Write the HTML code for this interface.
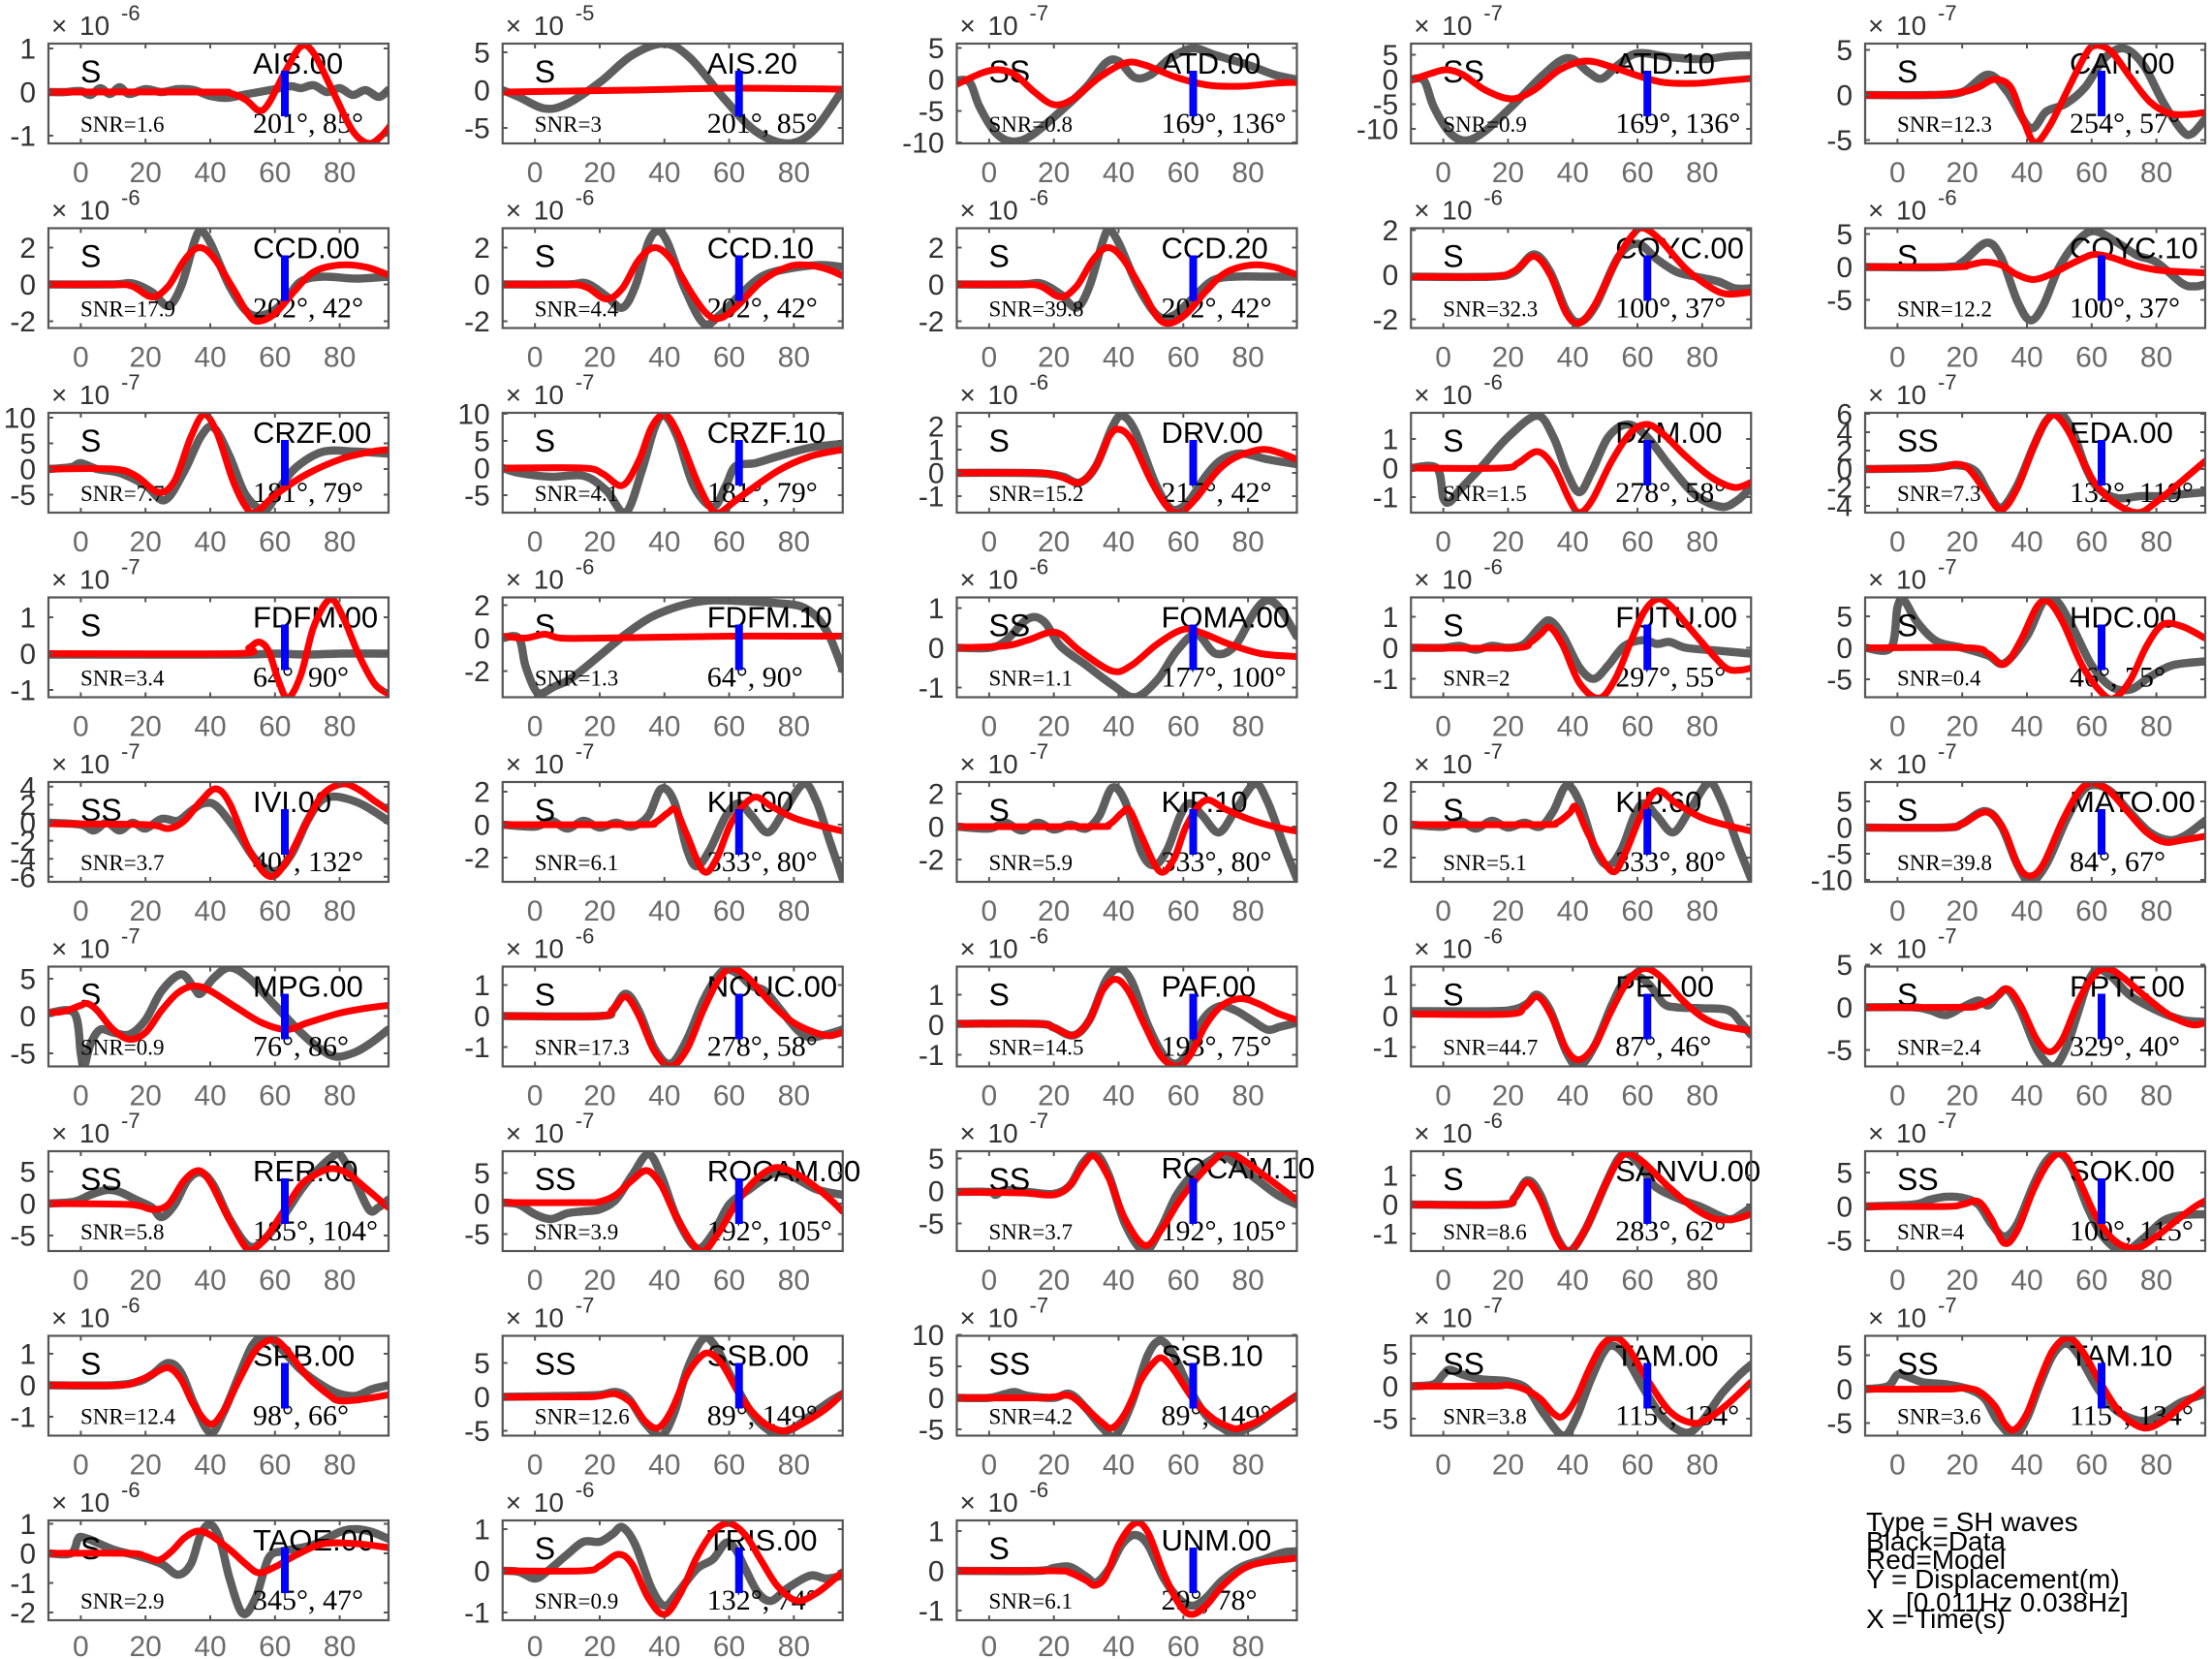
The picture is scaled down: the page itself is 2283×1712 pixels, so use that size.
<!DOCTYPE html>
<html><head><meta charset="utf-8"><style>
body{margin:0;background:#fff}
svg{display:block}
text{font-family:"Liberation Sans",sans-serif}
.x10{font-size:28px;fill:#333}
.ex{font-size:22px}
.xt{font-size:30px;fill:#6b6b6b;text-anchor:middle}
.yt{font-size:30px;fill:#333;text-anchor:end}
.ph{font-size:32px;fill:#000}
.nm{font-size:31px;fill:#000}
.snr{font-family:"Liberation Serif",serif;font-size:23px;fill:#000}
.ang{font-family:"Liberation Serif",serif;font-size:30px;fill:#000}
.lg{font-size:28px;fill:#000}
</style></head><body>
<svg id="S" width="2283" height="1712" viewBox="0 0 2283 1712" xmlns="http://www.w3.org/2000/svg">
<defs><clipPath id="cl" clipPathUnits="userSpaceOnUse"><rect x="0" y="0" width="351" height="103"/></clipPath></defs>
<rect width="2283" height="1712" fill="#fff"/>

<g class="p" transform="translate(50,45)"><text class="x10" x="3" y="-9">×<tspan x="32">10</tspan><tspan class="ex" x="75" y="-24">-6</tspan></text><text class="xt" y="143"><tspan x="33.4">0</tspan><tspan x="100.2">20</tspan><tspan x="167">40</tspan><tspan x="233.8">60</tspan><tspan x="300.6">80</tspan></text><text class="yt">1</text><text class="yt">0</text><text class="yt">-1</text><text class="ph" x="33" y="40">S</text><text class="nm" x="211" y="31">AIS.00</text><text class="snr" x="33" y="91">SNR=1.6</text><text class="ang" x="211" y="92">201°, 85°</text></g>
<g class="p" transform="translate(518.75,45)"><text class="x10" x="3" y="-9">×<tspan x="32">10</tspan><tspan class="ex" x="75" y="-24">-5</tspan></text><text class="xt" y="143"><tspan x="33.4">0</tspan><tspan x="100.2">20</tspan><tspan x="167">40</tspan><tspan x="233.8">60</tspan><tspan x="300.6">80</tspan></text><text class="yt">5</text><text class="yt">0</text><text class="yt">-5</text><text class="ph" x="33" y="40">S</text><text class="nm" x="211" y="31">AIS.20</text><text class="snr" x="33" y="91">SNR=3</text><text class="ang" x="211" y="92">201°, 85°</text></g>
<g class="p" transform="translate(987.5,45)"><text class="x10" x="3" y="-9">×<tspan x="32">10</tspan><tspan class="ex" x="75" y="-24">-7</tspan></text><text class="xt" y="143"><tspan x="33.4">0</tspan><tspan x="100.2">20</tspan><tspan x="167">40</tspan><tspan x="233.8">60</tspan><tspan x="300.6">80</tspan></text><text class="yt">5</text><text class="yt">0</text><text class="yt">-5</text><text class="yt">-10</text><text class="ph" x="33" y="40">SS</text><text class="nm" x="211" y="31">ATD.00</text><text class="snr" x="33" y="91">SNR=0.8</text><text class="ang" x="211" y="92">169°, 136°</text></g>
<g class="p" transform="translate(1456.25,45)"><text class="x10" x="3" y="-9">×<tspan x="32">10</tspan><tspan class="ex" x="75" y="-24">-7</tspan></text><text class="xt" y="143"><tspan x="33.4">0</tspan><tspan x="100.2">20</tspan><tspan x="167">40</tspan><tspan x="233.8">60</tspan><tspan x="300.6">80</tspan></text><text class="yt">5</text><text class="yt">0</text><text class="yt">-5</text><text class="yt">-10</text><text class="ph" x="33" y="40">SS</text><text class="nm" x="211" y="31">ATD.10</text><text class="snr" x="33" y="91">SNR=0.9</text><text class="ang" x="211" y="92">169°, 136°</text></g>
<g class="p" transform="translate(1925,45)"><text class="x10" x="3" y="-9">×<tspan x="32">10</tspan><tspan class="ex" x="75" y="-24">-7</tspan></text><text class="xt" y="143"><tspan x="33.4">0</tspan><tspan x="100.2">20</tspan><tspan x="167">40</tspan><tspan x="233.8">60</tspan><tspan x="300.6">80</tspan></text><text class="yt">5</text><text class="yt">0</text><text class="yt">-5</text><text class="ph" x="33" y="40">S</text><text class="nm" x="211" y="31">CAN.00</text><text class="snr" x="33" y="91">SNR=12.3</text><text class="ang" x="211" y="92">254°, 57°</text></g>

<g class="p" transform="translate(50,235.5)"><text class="x10" x="3" y="-9">×<tspan x="32">10</tspan><tspan class="ex" x="75" y="-24">-6</tspan></text><text class="xt" y="143"><tspan x="33.4">0</tspan><tspan x="100.2">20</tspan><tspan x="167">40</tspan><tspan x="233.8">60</tspan><tspan x="300.6">80</tspan></text><text class="yt">2</text><text class="yt">0</text><text class="yt">-2</text><text class="ph" x="33" y="40">S</text><text class="nm" x="211" y="31">CCD.00</text><text class="snr" x="33" y="91">SNR=17.9</text><text class="ang" x="211" y="92">202°, 42°</text></g>
<g class="p" transform="translate(518.75,235.5)"><text class="x10" x="3" y="-9">×<tspan x="32">10</tspan><tspan class="ex" x="75" y="-24">-6</tspan></text><text class="xt" y="143"><tspan x="33.4">0</tspan><tspan x="100.2">20</tspan><tspan x="167">40</tspan><tspan x="233.8">60</tspan><tspan x="300.6">80</tspan></text><text class="yt">2</text><text class="yt">0</text><text class="yt">-2</text><text class="ph" x="33" y="40">S</text><text class="nm" x="211" y="31">CCD.10</text><text class="snr" x="33" y="91">SNR=4.4</text><text class="ang" x="211" y="92">202°, 42°</text></g>
<g class="p" transform="translate(987.5,235.5)"><text class="x10" x="3" y="-9">×<tspan x="32">10</tspan><tspan class="ex" x="75" y="-24">-6</tspan></text><text class="xt" y="143"><tspan x="33.4">0</tspan><tspan x="100.2">20</tspan><tspan x="167">40</tspan><tspan x="233.8">60</tspan><tspan x="300.6">80</tspan></text><text class="yt">2</text><text class="yt">0</text><text class="yt">-2</text><text class="ph" x="33" y="40">S</text><text class="nm" x="211" y="31">CCD.20</text><text class="snr" x="33" y="91">SNR=39.8</text><text class="ang" x="211" y="92">202°, 42°</text></g>
<g class="p" transform="translate(1456.25,235.5)"><text class="x10" x="3" y="-9">×<tspan x="32">10</tspan><tspan class="ex" x="75" y="-24">-6</tspan></text><text class="xt" y="143"><tspan x="33.4">0</tspan><tspan x="100.2">20</tspan><tspan x="167">40</tspan><tspan x="233.8">60</tspan><tspan x="300.6">80</tspan></text><text class="yt">2</text><text class="yt">0</text><text class="yt">-2</text><text class="ph" x="33" y="40">S</text><text class="nm" x="211" y="31">COYC.00</text><text class="snr" x="33" y="91">SNR=32.3</text><text class="ang" x="211" y="92">100°, 37°</text></g>
<g class="p" transform="translate(1925,235.5)"><text class="x10" x="3" y="-9">×<tspan x="32">10</tspan><tspan class="ex" x="75" y="-24">-6</tspan></text><text class="xt" y="143"><tspan x="33.4">0</tspan><tspan x="100.2">20</tspan><tspan x="167">40</tspan><tspan x="233.8">60</tspan><tspan x="300.6">80</tspan></text><text class="yt">5</text><text class="yt">0</text><text class="yt">-5</text><text class="ph" x="33" y="40">S</text><text class="nm" x="211" y="31">COYC.10</text><text class="snr" x="33" y="91">SNR=12.2</text><text class="ang" x="211" y="92">100°, 37°</text></g>

<g class="p" transform="translate(50,426)"><text class="x10" x="3" y="-9">×<tspan x="32">10</tspan><tspan class="ex" x="75" y="-24">-7</tspan></text><text class="xt" y="143"><tspan x="33.4">0</tspan><tspan x="100.2">20</tspan><tspan x="167">40</tspan><tspan x="233.8">60</tspan><tspan x="300.6">80</tspan></text><text class="yt">10</text><text class="yt">5</text><text class="yt">0</text><text class="yt">-5</text><text class="ph" x="33" y="40">S</text><text class="nm" x="211" y="31">CRZF.00</text><text class="snr" x="33" y="91">SNR=7.7</text><text class="ang" x="211" y="92">181°, 79°</text></g>
<g class="p" transform="translate(518.75,426)"><text class="x10" x="3" y="-9">×<tspan x="32">10</tspan><tspan class="ex" x="75" y="-24">-7</tspan></text><text class="xt" y="143"><tspan x="33.4">0</tspan><tspan x="100.2">20</tspan><tspan x="167">40</tspan><tspan x="233.8">60</tspan><tspan x="300.6">80</tspan></text><text class="yt">10</text><text class="yt">5</text><text class="yt">0</text><text class="yt">-5</text><text class="ph" x="33" y="40">S</text><text class="nm" x="211" y="31">CRZF.10</text><text class="snr" x="33" y="91">SNR=4.1</text><text class="ang" x="211" y="92">181°, 79°</text></g>
<g class="p" transform="translate(987.5,426)"><text class="x10" x="3" y="-9">×<tspan x="32">10</tspan><tspan class="ex" x="75" y="-24">-6</tspan></text><text class="xt" y="143"><tspan x="33.4">0</tspan><tspan x="100.2">20</tspan><tspan x="167">40</tspan><tspan x="233.8">60</tspan><tspan x="300.6">80</tspan></text><text class="yt">2</text><text class="yt">1</text><text class="yt">0</text><text class="yt">-1</text><text class="ph" x="33" y="40">S</text><text class="nm" x="211" y="31">DRV.00</text><text class="snr" x="33" y="91">SNR=15.2</text><text class="ang" x="211" y="92">217°, 42°</text></g>
<g class="p" transform="translate(1456.25,426)"><text class="x10" x="3" y="-9">×<tspan x="32">10</tspan><tspan class="ex" x="75" y="-24">-6</tspan></text><text class="xt" y="143"><tspan x="33.4">0</tspan><tspan x="100.2">20</tspan><tspan x="167">40</tspan><tspan x="233.8">60</tspan><tspan x="300.6">80</tspan></text><text class="yt">1</text><text class="yt">0</text><text class="yt">-1</text><text class="ph" x="33" y="40">S</text><text class="nm" x="211" y="31">DZM.00</text><text class="snr" x="33" y="91">SNR=1.5</text><text class="ang" x="211" y="92">278°, 58°</text></g>
<g class="p" transform="translate(1925,426)"><text class="x10" x="3" y="-9">×<tspan x="32">10</tspan><tspan class="ex" x="75" y="-24">-7</tspan></text><text class="xt" y="143"><tspan x="33.4">0</tspan><tspan x="100.2">20</tspan><tspan x="167">40</tspan><tspan x="233.8">60</tspan><tspan x="300.6">80</tspan></text><text class="yt">6</text><text class="yt">4</text><text class="yt">2</text><text class="yt">0</text><text class="yt">-2</text><text class="yt">-4</text><text class="ph" x="33" y="40">SS</text><text class="nm" x="211" y="31">EDA.00</text><text class="snr" x="33" y="91">SNR=7.3</text><text class="ang" x="211" y="92">132°, 119°</text></g>

<g class="p" transform="translate(50,616.5)"><text class="x10" x="3" y="-9">×<tspan x="32">10</tspan><tspan class="ex" x="75" y="-24">-7</tspan></text><text class="xt" y="143"><tspan x="33.4">0</tspan><tspan x="100.2">20</tspan><tspan x="167">40</tspan><tspan x="233.8">60</tspan><tspan x="300.6">80</tspan></text><text class="yt">1</text><text class="yt">0</text><text class="yt">-1</text><text class="ph" x="33" y="40">S</text><text class="nm" x="211" y="31">FDFM.00</text><text class="snr" x="33" y="91">SNR=3.4</text><text class="ang" x="211" y="92">64°, 90°</text></g>
<g class="p" transform="translate(518.75,616.5)"><text class="x10" x="3" y="-9">×<tspan x="32">10</tspan><tspan class="ex" x="75" y="-24">-6</tspan></text><text class="xt" y="143"><tspan x="33.4">0</tspan><tspan x="100.2">20</tspan><tspan x="167">40</tspan><tspan x="233.8">60</tspan><tspan x="300.6">80</tspan></text><text class="yt">2</text><text class="yt">0</text><text class="yt">-2</text><text class="ph" x="33" y="40">S</text><text class="nm" x="211" y="31">FDFM.10</text><text class="snr" x="33" y="91">SNR=1.3</text><text class="ang" x="211" y="92">64°, 90°</text></g>
<g class="p" transform="translate(987.5,616.5)"><text class="x10" x="3" y="-9">×<tspan x="32">10</tspan><tspan class="ex" x="75" y="-24">-6</tspan></text><text class="xt" y="143"><tspan x="33.4">0</tspan><tspan x="100.2">20</tspan><tspan x="167">40</tspan><tspan x="233.8">60</tspan><tspan x="300.6">80</tspan></text><text class="yt">1</text><text class="yt">0</text><text class="yt">-1</text><text class="ph" x="33" y="40">SS</text><text class="nm" x="211" y="31">FOMA.00</text><text class="snr" x="33" y="91">SNR=1.1</text><text class="ang" x="211" y="92">177°, 100°</text></g>
<g class="p" transform="translate(1456.25,616.5)"><text class="x10" x="3" y="-9">×<tspan x="32">10</tspan><tspan class="ex" x="75" y="-24">-6</tspan></text><text class="xt" y="143"><tspan x="33.4">0</tspan><tspan x="100.2">20</tspan><tspan x="167">40</tspan><tspan x="233.8">60</tspan><tspan x="300.6">80</tspan></text><text class="yt">1</text><text class="yt">0</text><text class="yt">-1</text><text class="ph" x="33" y="40">S</text><text class="nm" x="211" y="31">FUTU.00</text><text class="snr" x="33" y="91">SNR=2</text><text class="ang" x="211" y="92">297°, 55°</text></g>
<g class="p" transform="translate(1925,616.5)"><text class="x10" x="3" y="-9">×<tspan x="32">10</tspan><tspan class="ex" x="75" y="-24">-7</tspan></text><text class="xt" y="143"><tspan x="33.4">0</tspan><tspan x="100.2">20</tspan><tspan x="167">40</tspan><tspan x="233.8">60</tspan><tspan x="300.6">80</tspan></text><text class="yt">5</text><text class="yt">0</text><text class="yt">-5</text><text class="ph" x="33" y="40">S</text><text class="nm" x="211" y="31">HDC.00</text><text class="snr" x="33" y="91">SNR=0.4</text><text class="ang" x="211" y="92">46°, 75°</text></g>

<g class="p" transform="translate(50,807)"><text class="x10" x="3" y="-9">×<tspan x="32">10</tspan><tspan class="ex" x="75" y="-24">-7</tspan></text><text class="xt" y="143"><tspan x="33.4">0</tspan><tspan x="100.2">20</tspan><tspan x="167">40</tspan><tspan x="233.8">60</tspan><tspan x="300.6">80</tspan></text><text class="yt">4</text><text class="yt">2</text><text class="yt">0</text><text class="yt">-2</text><text class="yt">-4</text><text class="yt">-6</text><text class="ph" x="33" y="40">SS</text><text class="nm" x="211" y="31">IVI.00</text><text class="snr" x="33" y="91">SNR=3.7</text><text class="ang" x="211" y="92">40°, 132°</text></g>
<g class="p" transform="translate(518.75,807)"><text class="x10" x="3" y="-9">×<tspan x="32">10</tspan><tspan class="ex" x="75" y="-24">-7</tspan></text><text class="xt" y="143"><tspan x="33.4">0</tspan><tspan x="100.2">20</tspan><tspan x="167">40</tspan><tspan x="233.8">60</tspan><tspan x="300.6">80</tspan></text><text class="yt">2</text><text class="yt">0</text><text class="yt">-2</text><text class="ph" x="33" y="40">S</text><text class="nm" x="211" y="31">KIP.00</text><text class="snr" x="33" y="91">SNR=6.1</text><text class="ang" x="211" y="92">333°, 80°</text></g>
<g class="p" transform="translate(987.5,807)"><text class="x10" x="3" y="-9">×<tspan x="32">10</tspan><tspan class="ex" x="75" y="-24">-7</tspan></text><text class="xt" y="143"><tspan x="33.4">0</tspan><tspan x="100.2">20</tspan><tspan x="167">40</tspan><tspan x="233.8">60</tspan><tspan x="300.6">80</tspan></text><text class="yt">2</text><text class="yt">0</text><text class="yt">-2</text><text class="ph" x="33" y="40">S</text><text class="nm" x="211" y="31">KIP.10</text><text class="snr" x="33" y="91">SNR=5.9</text><text class="ang" x="211" y="92">333°, 80°</text></g>
<g class="p" transform="translate(1456.25,807)"><text class="x10" x="3" y="-9">×<tspan x="32">10</tspan><tspan class="ex" x="75" y="-24">-7</tspan></text><text class="xt" y="143"><tspan x="33.4">0</tspan><tspan x="100.2">20</tspan><tspan x="167">40</tspan><tspan x="233.8">60</tspan><tspan x="300.6">80</tspan></text><text class="yt">2</text><text class="yt">0</text><text class="yt">-2</text><text class="ph" x="33" y="40">S</text><text class="nm" x="211" y="31">KIP.60</text><text class="snr" x="33" y="91">SNR=5.1</text><text class="ang" x="211" y="92">333°, 80°</text></g>
<g class="p" transform="translate(1925,807)"><text class="x10" x="3" y="-9">×<tspan x="32">10</tspan><tspan class="ex" x="75" y="-24">-7</tspan></text><text class="xt" y="143"><tspan x="33.4">0</tspan><tspan x="100.2">20</tspan><tspan x="167">40</tspan><tspan x="233.8">60</tspan><tspan x="300.6">80</tspan></text><text class="yt">5</text><text class="yt">0</text><text class="yt">-5</text><text class="yt">-10</text><text class="ph" x="33" y="40">S</text><text class="nm" x="211" y="31">MATO.00</text><text class="snr" x="33" y="91">SNR=39.8</text><text class="ang" x="211" y="92">84°, 67°</text></g>

<g class="p" transform="translate(50,997.5)"><text class="x10" x="3" y="-9">×<tspan x="32">10</tspan><tspan class="ex" x="75" y="-24">-7</tspan></text><text class="xt" y="143"><tspan x="33.4">0</tspan><tspan x="100.2">20</tspan><tspan x="167">40</tspan><tspan x="233.8">60</tspan><tspan x="300.6">80</tspan></text><text class="yt">5</text><text class="yt">0</text><text class="yt">-5</text><text class="ph" x="33" y="40">S</text><text class="nm" x="211" y="31">MPG.00</text><text class="snr" x="33" y="91">SNR=0.9</text><text class="ang" x="211" y="92">76°, 86°</text></g>
<g class="p" transform="translate(518.75,997.5)"><text class="x10" x="3" y="-9">×<tspan x="32">10</tspan><tspan class="ex" x="75" y="-24">-6</tspan></text><text class="xt" y="143"><tspan x="33.4">0</tspan><tspan x="100.2">20</tspan><tspan x="167">40</tspan><tspan x="233.8">60</tspan><tspan x="300.6">80</tspan></text><text class="yt">1</text><text class="yt">0</text><text class="yt">-1</text><text class="ph" x="33" y="40">S</text><text class="nm" x="211" y="31">NOUC.00</text><text class="snr" x="33" y="91">SNR=17.3</text><text class="ang" x="211" y="92">278°, 58°</text></g>
<g class="p" transform="translate(987.5,997.5)"><text class="x10" x="3" y="-9">×<tspan x="32">10</tspan><tspan class="ex" x="75" y="-24">-6</tspan></text><text class="xt" y="143"><tspan x="33.4">0</tspan><tspan x="100.2">20</tspan><tspan x="167">40</tspan><tspan x="233.8">60</tspan><tspan x="300.6">80</tspan></text><text class="yt">1</text><text class="yt">0</text><text class="yt">-1</text><text class="ph" x="33" y="40">S</text><text class="nm" x="211" y="31">PAF.00</text><text class="snr" x="33" y="91">SNR=14.5</text><text class="ang" x="211" y="92">193°, 75°</text></g>
<g class="p" transform="translate(1456.25,997.5)"><text class="x10" x="3" y="-9">×<tspan x="32">10</tspan><tspan class="ex" x="75" y="-24">-6</tspan></text><text class="xt" y="143"><tspan x="33.4">0</tspan><tspan x="100.2">20</tspan><tspan x="167">40</tspan><tspan x="233.8">60</tspan><tspan x="300.6">80</tspan></text><text class="yt">1</text><text class="yt">0</text><text class="yt">-1</text><text class="ph" x="33" y="40">S</text><text class="nm" x="211" y="31">PEL.00</text><text class="snr" x="33" y="91">SNR=44.7</text><text class="ang" x="211" y="92">87°, 46°</text></g>
<g class="p" transform="translate(1925,997.5)"><text class="x10" x="3" y="-9">×<tspan x="32">10</tspan><tspan class="ex" x="75" y="-24">-7</tspan></text><text class="xt" y="143"><tspan x="33.4">0</tspan><tspan x="100.2">20</tspan><tspan x="167">40</tspan><tspan x="233.8">60</tspan><tspan x="300.6">80</tspan></text><text class="yt">5</text><text class="yt">0</text><text class="yt">-5</text><text class="ph" x="33" y="40">S</text><text class="nm" x="211" y="31">PPTF.00</text><text class="snr" x="33" y="91">SNR=2.4</text><text class="ang" x="211" y="92">329°, 40°</text></g>

<g class="p" transform="translate(50,1188)"><text class="x10" x="3" y="-9">×<tspan x="32">10</tspan><tspan class="ex" x="75" y="-24">-7</tspan></text><text class="xt" y="143"><tspan x="33.4">0</tspan><tspan x="100.2">20</tspan><tspan x="167">40</tspan><tspan x="233.8">60</tspan><tspan x="300.6">80</tspan></text><text class="yt">5</text><text class="yt">0</text><text class="yt">-5</text><text class="ph" x="33" y="40">SS</text><text class="nm" x="211" y="31">RER.00</text><text class="snr" x="33" y="91">SNR=5.8</text><text class="ang" x="211" y="92">185°, 104°</text></g>
<g class="p" transform="translate(518.75,1188)"><text class="x10" x="3" y="-9">×<tspan x="32">10</tspan><tspan class="ex" x="75" y="-24">-7</tspan></text><text class="xt" y="143"><tspan x="33.4">0</tspan><tspan x="100.2">20</tspan><tspan x="167">40</tspan><tspan x="233.8">60</tspan><tspan x="300.6">80</tspan></text><text class="yt">5</text><text class="yt">0</text><text class="yt">-5</text><text class="ph" x="33" y="40">SS</text><text class="nm" x="211" y="31">ROCAM.00</text><text class="snr" x="33" y="91">SNR=3.9</text><text class="ang" x="211" y="92">192°, 105°</text></g>
<g class="p" transform="translate(987.5,1188)"><text class="x10" x="3" y="-9">×<tspan x="32">10</tspan><tspan class="ex" x="75" y="-24">-7</tspan></text><text class="xt" y="143"><tspan x="33.4">0</tspan><tspan x="100.2">20</tspan><tspan x="167">40</tspan><tspan x="233.8">60</tspan><tspan x="300.6">80</tspan></text><text class="yt">5</text><text class="yt">0</text><text class="yt">-5</text><text class="ph" x="33" y="40">SS</text><text class="nm" x="211" y="28">ROCAM.10</text><text class="snr" x="33" y="91">SNR=3.7</text><text class="ang" x="211" y="92">192°, 105°</text></g>
<g class="p" transform="translate(1456.25,1188)"><text class="x10" x="3" y="-9">×<tspan x="32">10</tspan><tspan class="ex" x="75" y="-24">-6</tspan></text><text class="xt" y="143"><tspan x="33.4">0</tspan><tspan x="100.2">20</tspan><tspan x="167">40</tspan><tspan x="233.8">60</tspan><tspan x="300.6">80</tspan></text><text class="yt">1</text><text class="yt">0</text><text class="yt">-1</text><text class="ph" x="33" y="40">S</text><text class="nm" x="211" y="31">SANVU.00</text><text class="snr" x="33" y="91">SNR=8.6</text><text class="ang" x="211" y="92">283°, 62°</text></g>
<g class="p" transform="translate(1925,1188)"><text class="x10" x="3" y="-9">×<tspan x="32">10</tspan><tspan class="ex" x="75" y="-24">-7</tspan></text><text class="xt" y="143"><tspan x="33.4">0</tspan><tspan x="100.2">20</tspan><tspan x="167">40</tspan><tspan x="233.8">60</tspan><tspan x="300.6">80</tspan></text><text class="yt">5</text><text class="yt">0</text><text class="yt">-5</text><text class="ph" x="33" y="40">SS</text><text class="nm" x="211" y="31">SOK.00</text><text class="snr" x="33" y="91">SNR=4</text><text class="ang" x="211" y="92">100°, 115°</text></g>

<g class="p" transform="translate(50,1378.5)"><text class="x10" x="3" y="-9">×<tspan x="32">10</tspan><tspan class="ex" x="75" y="-24">-6</tspan></text><text class="xt" y="143"><tspan x="33.4">0</tspan><tspan x="100.2">20</tspan><tspan x="167">40</tspan><tspan x="233.8">60</tspan><tspan x="300.6">80</tspan></text><text class="yt">1</text><text class="yt">0</text><text class="yt">-1</text><text class="ph" x="33" y="40">S</text><text class="nm" x="211" y="31">SPB.00</text><text class="snr" x="33" y="91">SNR=12.4</text><text class="ang" x="211" y="92">98°, 66°</text></g>
<g class="p" transform="translate(518.75,1378.5)"><text class="x10" x="3" y="-9">×<tspan x="32">10</tspan><tspan class="ex" x="75" y="-24">-7</tspan></text><text class="xt" y="143"><tspan x="33.4">0</tspan><tspan x="100.2">20</tspan><tspan x="167">40</tspan><tspan x="233.8">60</tspan><tspan x="300.6">80</tspan></text><text class="yt">5</text><text class="yt">0</text><text class="yt">-5</text><text class="ph" x="33" y="40">SS</text><text class="nm" x="211" y="31">SSB.00</text><text class="snr" x="33" y="91">SNR=12.6</text><text class="ang" x="211" y="92">89°, 149°</text></g>
<g class="p" transform="translate(987.5,1378.5)"><text class="x10" x="3" y="-9">×<tspan x="32">10</tspan><tspan class="ex" x="75" y="-24">-7</tspan></text><text class="xt" y="143"><tspan x="33.4">0</tspan><tspan x="100.2">20</tspan><tspan x="167">40</tspan><tspan x="233.8">60</tspan><tspan x="300.6">80</tspan></text><text class="yt">10</text><text class="yt">5</text><text class="yt">0</text><text class="yt">-5</text><text class="ph" x="33" y="40">SS</text><text class="nm" x="211" y="31">SSB.10</text><text class="snr" x="33" y="91">SNR=4.2</text><text class="ang" x="211" y="92">89°, 149°</text></g>
<g class="p" transform="translate(1456.25,1378.5)"><text class="x10" x="3" y="-9">×<tspan x="32">10</tspan><tspan class="ex" x="75" y="-24">-7</tspan></text><text class="xt" y="143"><tspan x="33.4">0</tspan><tspan x="100.2">20</tspan><tspan x="167">40</tspan><tspan x="233.8">60</tspan><tspan x="300.6">80</tspan></text><text class="yt">5</text><text class="yt">0</text><text class="yt">-5</text><text class="ph" x="33" y="40">SS</text><text class="nm" x="211" y="31">TAM.00</text><text class="snr" x="33" y="91">SNR=3.8</text><text class="ang" x="211" y="92">115°, 134°</text></g>
<g class="p" transform="translate(1925,1378.5)"><text class="x10" x="3" y="-9">×<tspan x="32">10</tspan><tspan class="ex" x="75" y="-24">-7</tspan></text><text class="xt" y="143"><tspan x="33.4">0</tspan><tspan x="100.2">20</tspan><tspan x="167">40</tspan><tspan x="233.8">60</tspan><tspan x="300.6">80</tspan></text><text class="yt">5</text><text class="yt">0</text><text class="yt">-5</text><text class="ph" x="33" y="40">SS</text><text class="nm" x="211" y="31">TAM.10</text><text class="snr" x="33" y="91">SNR=3.6</text><text class="ang" x="211" y="92">115°, 134°</text></g>

<g class="p" transform="translate(50,1569)"><text class="x10" x="3" y="-9">×<tspan x="32">10</tspan><tspan class="ex" x="75" y="-24">-6</tspan></text><text class="xt" y="140"><tspan x="33.4">0</tspan><tspan x="100.2">20</tspan><tspan x="167">40</tspan><tspan x="233.8">60</tspan><tspan x="300.6">80</tspan></text><text class="yt">1</text><text class="yt">0</text><text class="yt">-1</text><text class="yt">-2</text><text class="ph" x="33" y="40">S</text><text class="nm" x="211" y="31">TAOE.00</text><text class="snr" x="33" y="91">SNR=2.9</text><text class="ang" x="211" y="92">345°, 47°</text></g>
<g class="p" transform="translate(518.75,1569)"><text class="x10" x="3" y="-9">×<tspan x="32">10</tspan><tspan class="ex" x="75" y="-24">-6</tspan></text><text class="xt" y="140"><tspan x="33.4">0</tspan><tspan x="100.2">20</tspan><tspan x="167">40</tspan><tspan x="233.8">60</tspan><tspan x="300.6">80</tspan></text><text class="yt">1</text><text class="yt">0</text><text class="yt">-1</text><text class="ph" x="33" y="40">S</text><text class="nm" x="211" y="31">TRIS.00</text><text class="snr" x="33" y="91">SNR=0.9</text><text class="ang" x="211" y="92">132°, 74°</text></g>
<g class="p" transform="translate(987.5,1569)"><text class="x10" x="3" y="-9">×<tspan x="32">10</tspan><tspan class="ex" x="75" y="-24">-6</tspan></text><text class="xt" y="140"><tspan x="33.4">0</tspan><tspan x="100.2">20</tspan><tspan x="167">40</tspan><tspan x="233.8">60</tspan><tspan x="300.6">80</tspan></text><text class="yt">1</text><text class="yt">0</text><text class="yt">-1</text><text class="ph" x="33" y="40">S</text><text class="nm" x="211" y="31">UNM.00</text><text class="snr" x="33" y="91">SNR=6.1</text><text class="ang" x="211" y="92">29°, 78°</text></g>

<text class="lg" x="1926" y="1580">Type = SH waves</text>
<text class="lg" x="1926" y="1600">Black=Data</text>
<text class="lg" x="1926" y="1619">Red=Model</text>
<text class="lg" x="1926" y="1639">Y = Displacement(m)</text>
<text class="lg" x="1967" y="1663">[0.011Hz 0.038Hz]</text>
<text class="lg" x="1926" y="1680">X = Time(s)</text>
</svg>
<script>
var P=[
[50,45,[-10,50,-5,50,0,49,3,53,6,46,9,52,12,45,15,52,20,47,25,50,30,47,35,48,40,54,45,56,50,53,55,50,60,47,65,44,68,46,72,43,76,50,80,46,84,53,88,48,92,55,95,48],[-10,50,40,50,46,51,51,58,55,69,58,62,63,30,68,3,72,10,78,50,84,90,89,103,93,95,96,83]],
[48,7.8,[-10,48,-5,55,3,67,10,62,20,40,30,12,40,0,48,15,58,55,68,90,78,103,86,90,95,48],[-10,50,30,48,60,46,95,47]],
[37,6.5,[-10,38,-6,40,-3,65,2,92,7,101,13,95,22,70,30,45,36,20,40,18,45,35,50,32,56,15,63,5,70,12,80,22,88,32,95,37],[-10,42,-2,30,3,27,8,32,14,50,20,63,26,57,34,35,42,20,48,22,58,35,68,43,78,44,88,41,95,40]],
[37,5.1,[-10,37,-6,38,-3,65,2,92,7,100,13,90,22,62,30,35,36,18,40,16,45,30,49,36,54,22,60,10,70,14,80,16,88,13,95,12],[-10,38,-4,31,1,27,6,32,13,48,21,57,28,48,36,27,44,18,52,24,60,33,68,40,78,41,88,38,95,36]],
[53,9.3,[-10,53,10,53,20,50,28,32,34,50,41,87,46,70,52,62,58,45,64,15,70,5,76,22,82,60,88,90,91,93,95,78],[-10,53,10,53,20,50,25,45,30,37,35,45,39,80,42.5,102,47,85,53,45,58,12,61,2,66,8,72,35,78,60,84,72,90,73,95,71]],
[58,19,[-10,58,10,58,16,57,22,66,27,80,31,60,35,15,37,3,40,15,46,60,52,88,58,88,63,75,68,55,75,50,85,52,95,50],[-10,58,10,58,16,60,22,71,27,60,32,33,36.5,20,41,30,47,62,52,90,55,96,60,88,66,65,72,45,80,38,88,40,95,48]],
[58,19,[-10,58,10,58,16,57,22,70,27,82,31,60,35,15,38,3,41,15,46,60,52,98,57,90,63,70,70,50,78,42,88,38,95,40],[-10,58,10,58,16,61,22,73,27,62,32,33,37,20,42,32,48,65,53,88,57,93,62,82,70,55,78,40,84,38,90,42,95,49]],
[58,19,[-10,58,10,58,16,57,22,68,27,82,31,60,35,15,37,2,40,15,46,60,52,90,57,90,63,72,69,54,76,50,86,50,95,50],[-10,58,10,58,16,60,22,71,27,60,32,33,36.5,20,41,30,47,62,52,92,56,98,61,88,67,65,73,46,81,38,88,40,95,48]],
[48,23,[-10,50,15,50,22,45,28,27,33,45,38,85,42,97,47,80,54,30,60,16,66,32,72,45,78,50,85,55,90,62,95,62],[-10,50,15,50,22,44,28,29,33,48,38,88,42,98,47,78,54,30,59,5,62,0,67,12,75,42,83,62,88,68,95,66]],
[40,6.8,[-10,40,15,40,20,35,27.5,15,32,30,37,75,41,95,45,80,50,40,56,12,61,3,68,15,74,28,80,35,88,57,92,60,95,58],[-10,40,18,40,22,38,27,35,32,38,37,48,42,53,47,48,53,38,58,30,61,27,66,30,73,38,80,43,88,45,95,46]],
[58,5.3,[-10,58,-3,56,0,52,5,58,12,62,20,75,26,90,32,60,37,25,41,15,46,45,51,85,57,100,62,75,67,55,75,40,85,40,95,42],[-10,58,10,58,17,65,24,82,29,70,34,25,38,2,42,20,47,70,51,97,54,103,60,85,70,63,81,47,90,40,95,38]],
[57,5.6,[-10,57,-5,62,5,66,15,65,22,80,28,103,33,60,37,15,40,3,44,25,49,75,55,97,59,75,62,55,68,52,75,45,85,36,95,32],[-10,57,15,57,21,63,27,75,32,50,36,15,40,2,44,20,50,70,54,97,57,103,63,88,75,60,85,45,95,38]],
[62,24,[-10,62,10,62,18,63,23,66,28,72,33,55,38,15,41,3,45,18,51,70,55,95,58,100,62,90,67,65,72,48,78,42,86,48,95,53],[-10,62,15,62,22,66,28,72,33,55,37,25,40,17,44,28,50,70,55,97,59,103,64,88,70,62,75,48,81,40,86,38,92,44,95,48]],
[57,30,[-10,57,-2,57,0,88,2,92,5,80,12,55,20,25,29,3,34,25,38,60,42,82,46,60,51,25,57,12,63,25,70,55,78,85,86,97,91,90,95,77],[-10,57,18,57,23,52,29,40,34,55,39,90,42,103,46,90,52,50,58,20,63,12,68,22,75,45,83,67,90,77,95,72]],
[58,9.5,[-10,58,10,57,18,54,24,60,28,82,32,98,37,75,42,35,46,8,50,0,54,18,58,55,62,78,68,88,75,86,82,86,88,84,95,82],[-10,58,12,57,18,53,22,58,27,80,32,100,37,78,42,35,46,8,49,3,53,20,58,55,62,77,68,95,74.5,103,80,92,88,70,95,50]],
[58,37.5,[-10,59,20,59,50,59,60,58,70,59,80,58,95,58],[-10,58,48,58,52,52,55,46,58,55,61,85,64,104,68,80,72,30,77,2,81,20,86,60,91,90,96,101]],
[42,17,[-10,42,-5,42,-3,70,0,95,2,99,6,92,11,84,20,60,28,38,35,22,41,13,48,6,55,3,65,4,75,6,82,9,87,20,91,40,95,74],[-10,40,-3,42,3,38,8,42,20,42,40,41,60,40,80,40,95,40]],
[52,41,[-10,52,0,52,5,45,12,22,17,25,22,50,30,70,38,90,45,103,52,85,58,55,64,38,70,58,76,50,82,15,86,3,90,12,95,40],[-10,52,5,50,12,44,20.6,36,28,55,38,76,44,70,52,48,60,33,66,37,74,48,84,58,95,61]],
[52,32,[-10,52,0,52,5,50,10,54,15,50,20,52,25,48,30,30,33,24,37,40,42,72,46.5,84,51,70,56,50,62,44,66,48,70,46,75,52,85,55,95,58],[-10,52,22,52,27,46,30,38,33,31,37,50,42,88,48,104,53,85,58,45,62,15,66,2,70,8,77,35,84,62,88,74,92,75,95,73]],
[52,6.5,[-10,52,-2,52,0,10,2,3,6,25,12,45,20,52,28,60,33,68,40,40,45,5,49,3,54,30,60,70,66,92,72,95,78,82,85,70,95,66],[-10,52,22,52,28,58,33,69,38,45,43,10,46.5,4,51,25,57,70,63,98,67,104,72,85,77,50,82,28,88,30,95,42]],
[42,9.3,[-10,42,0,44,4,50,8,42,12,50,16,42,20,48,25,38,30,40,34,30,38,22,42,25,48,50,54,80,60,92,65,75,70,40,74,20,78,15,83,18,88,25,95,40],[-10,43,20,44,27,48,32,40,37,20,41.7,7,46,22,52,70,58,97,63,85,70,40,75,12,81,2,86,8,91,20,96.5,32]],
[44,17,[-10,44,0,46,5,40,10,48,15,40,20,47,25,42,30,46,35,35,39,7,43,20,47,70,50,87,54,70,59,35,63,22,67,35,72,52,77,30,83,2,87,20,91,60,95,99],[-10,44,32,44,37,42,41,32,43.5,29,47,55,52,92,56,80,61,40,67.5,16,73,25,80,37,88,45,97,52]],
[46,17,[-10,46,0,48,5,42,10,50,15,42,20,49,25,44,30,48,34,35,38,6,42,20,47,72,51,86,55,70,59,35,62,22,66,35,71,52,76,30,82,2,86,20,91,65,95,99],[-10,46,32,46,37,44,41,32,43.4,29,47,55,52.6,92,57,80,61,45,66.7,19,73,28,80,38,88,46,97,52]],
[44,17,[-10,44,0,46,5,40,10,48,15,40,20,47,25,42,30,46,34,30,38,4,42,20,47,70,51,86,55,70,59,35,62,22,66,35,71,52,76,30,82,1,86,20,91,65,95,99],[-10,44,30,44,35,42,39,32,41,26,45,55,52,92,56,75,61,35,66,9,72,22,80,37,88,45,97,52]],
[47,5.4,[-10,47,15,47,20,43,27,30,32,45,37,85,41,103,46,85,52,40,57,10,61,3,66,10,72,32,78,52,84,60,89,55,95,40],[-10,47,15,47,20,43,27.6,31,33,50,37,85,40.8,97,45,85,51,40,56,10,60,1,65,8,71,30,77,52,82.5,62,88,60,95,56]],
[51,7.7,[-10,48,-2,48,0,90,1,103,3,80,6,65,10,68,15,70,20,55,25,25,31,8,35,22,37,28,41,12,46,1,52,12,60,40,68,68,74,85,79,93,85,88,90,78,95,65],[-10,48,-5,46,0,40,2,38,5,45,10,65,15,75,20,68,25,45,30,27,35,20,40,25,48,42,56,58,63.6,65,70,58,80,48,88,43,95,40]],
[51,32,[-10,51,20,51,24,45,28,28,32,45,37,85,42,100,47,75,52,35,56,12,59,3,63,8,67,20,71,25,76,45,81,65,85,73,90,70,95,65],[-10,51,20,51,24,44,28,31,32,50,37,88,42,103,47,85,52,45,57,12,61,2,66,12,73,38,80,58,89.5,71,95,68]],
[60,31,[-10,59,15,59,20,63,26,71,31,55,36,15,40,2,44,15,49,60,54,92,58,100,62,85,66,55,71,41,76,45,81,55,86,65,90,62,95,58],[-10,59,15,59,20,63,26,71,31,55,35,25,39,13,43,25,48,60,53,92,58,103,62,92,67,60,72,40,77.6,33,83,38,89,48,95,55]],
[51,32,[-10,46,15,46,22,44,26,38,29,29,33,45,38,88,42,103,47,80,52,40,56,15,60,10,64,20,68,38,72,42,80,43,88,45,92,58,95,70],[-10,49,20,49,25,42,29,31,33,48,38,85,42,96,47,80,52,45,57,15,62,2,67,10,74,35,80,52,86,61,95,66]],
[42,8.8,[-10,42,5,42,10,45,15,50,20,42,25,35,28,40,31,30,34,24,38,45,43,85,48,103,52,85,56,45,59,15,62,3,66,10,72,30,80,45,88,55,95,57],[-10,42,20,42,25,40,30,32,34,23,38,40,43,75,47,88,51,75,56,35,61,8,65,2,70,12,77,32,84,50,91,60,95,58]],
[54,6.6,[-10,54,-2,52,3,45,8,40,12,42,17,50,22,58,25,68,29,55,33,30,37,22,41,35,46,70,52,98,57,90,63,65,68,40,73,20,78,5,80,3,84,25,89,60,92,58,95,50],[-10,54,15,55,22,60,27,55,32,30,36.4,20,40,32,45,65,50,95,52.6,102,57,90,63,60,68,35,72,25,77,18,82,22,88,38,95,58]],
[54,6.3,[-10,53,-5,55,0,65,5,70,10,64,15,62,20,60,25,50,30,25,35,3,39,25,44,70,50,100,55,85,60,55,66,40,71,28,75,22,80,27,86,38,90,42,95,45],[-10,53,15,53,20,52,25,45,30,30,34.6,20,39,35,44,70,51,103,56,88,62,55,68,30,74,17,80,22,86,35,92,52,95,62]],
[41,6.7,[-10,42,0,42,2,45,5,40,12,42,20,44,25,35,29,12,33,3,37,25,42,75,48,103,53,80,58,45,64,20,69,8,72,3,77,15,83,30,89,45,95,55],[-10,42,10,43,20,45,25,35,29,15,32.5,5,37,28,42,70,48,97,53,82,59,50,65,25,70,8,73,0,78,8,85,25,91,40,95,50]],
[55,30,[-10,55,18,55,22,48,26,30,30,45,35,88,39,103,44,80,50,35,54,8,57,3,61,15,65,35,70,45,75,52,80,58,88,70,92,65,95,58],[-10,55,18,55,22,48,26,32,30,50,35,90,39,103,44,80,50,35,54,10,57,2,62,12,70,38,78,60,84,70,90,70,95,65]],
[57,7,[-10,57,5,55,10,50,15,47,20,48,25,55,29,75,33,88,37,75,42,35,46,10,50,2,54,18,59,60,64,90,70,103,76,90,82,72,88,66,95,65],[-10,57,15,57,20,55,25,52,29,70,33,95,37,82,42,40,47,10,51,3,55,22,61,65,67,92,73.7,100,80,88,86,72,92,57,97,48]],
[51,32.5,[-10,51,10,51,18,47,22,40,27,28,31,38,35,70,40,100,44,80,49,40,53,10,57,0,61,10,68,35,75,52,80,60,85,62,90,55,95,51],[-10,51,12,51,18,46,22,40,27,33,31,45,35,72,40,91,44,78,49,45,54,15,59,4,63,12,70,42,77,62,80,67,86,66,95,61]],
[63,7,[-10,63,10,62,20,61,25,58,29,65,34,90,39,103,43,80,47,35,52,3,56,12,61,45,67,80,72,97,75,100,80,95,86,80,91,68,95,60],[-10,63,15,63,20,62,25,60,30,70,34,88,38,95,42,78,47,40,51,22,54,18,58,30,64,65,70,88,75,97,78.5,97,84,88,90,75,95,60]],
[64,6.5,[-10,64,0,64,5,60,8,58,12,62,20,64,25,60,30,75,35,95,39,103,44,70,49,20,53,5,57,20,62,55,67,82,72,95,76,100,82,92,88,78,95,62],[-10,64,15,64,20,63,25,62,30,75,35,90,38,95,42,80,47,45,51,27,53.5,23,57,35,63,65,69,85,75,95,77.6,95,83,88,89,75,95,62]],
[52,6.7,[-10,52,-3,50,0,40,2,35,6,40,12,45,20,47,26,55,31,80,37,103,41,85,45,50,49,20,52,10,56,20,62,55,68,85,75,100,80,88,86,60,91,42,95,30],[-10,52,15,52,20,51,25,55,30,65,34,80,37,83,41,65,45,35,49,10,53,2,57,12,63,45,70,78,77,90,82,85,88,70,95,48]],
[55,7,[-10,55,-3,52,0,40,3,42,8,48,15,50,22,55,27,65,31,88,36,103,40,85,44,50,48,20,52,8,56,20,62,55,68,78,76,88,82,80,88,68,95,60],[-10,55,15,55,20,54,25,57,30,72,33,90,36,97,40,80,44,45,48,15,52.6,2,57,15,63,50,69,80,76,95,82,88,88,72,95,55]],
[34,30.5,[-10,34,-3,34,-1,20,0,17,3,20,10,30,18,37,25,45,30,56,34,45,37,15,40,4,43,20,46,60,50,96,54,80,58,39,62,32,65,30,72,25,80,12,85,9,90,12,95,19],[-10,34,15,34,20,37,24,41,28,32,32,18,36,11,40,15,46,30,51,45,55,54,60,48,67,35,75,24,85,24,95,28]],
[52,43,[-10,52,-5,53,0,60,4,52,10,35,15,22,20,22,24,14,27,7,31,25,36,70,40,88,44,75,50,50,55,40,59,23,62,30,65,50,69,75,73,83,78,70,85,57,90,60,95,57],[-10,52,15,52,20,47,25.7,35,30,45,35,80,40,97,45,75,50,38,55,12,60,3,65,15,70,42,75,68,81,83,87,75,92,62,95,53]],
[52,41,[-10,52,15,52,20,49,25,48,30,58,33,64,37,50,41,25,45,15,49,25,54,60,59,82,63,88,67,80,72,62,78,48,85,40,91,33,95,32],[-10,52,20,52,25,54,30,62,32.7,67,36,58,40,25,45,3,49,12,54,55,59,88,62.7,97,67,88,72,68,78.5,50,85,43,95,39]]
];
var NS="http://www.w3.org/2000/svg";
function el(n,a,p,before){var e=document.createElementNS(NS,n);for(var k in a)e.setAttribute(k,a[k]);if(before)p.insertBefore(e,before);else p.appendChild(e);return e;}
function X(t){return (t+10)*3.34;}
function path(a){var p=[];for(var i=0;i<a.length;i+=2)p.push([X(a[i]),a[i+1]]);
 var d="M"+p[0][0].toFixed(1)+","+p[0][1].toFixed(1);
 for(var i=0;i<p.length-1;i++){var p0=p[i>0?i-1:i],p1=p[i],p2=p[i+1],p3=p[i+2<p.length?i+2:i+1];
  var c1x=p1[0]+(p2[0]-p0[0])/6,c1y=p1[1]+(p2[1]-p0[1])/6,c2x=p2[0]-(p3[0]-p1[0])/6,c2y=p2[1]-(p3[1]-p1[1])/6;
  d+=" C"+c1x.toFixed(1)+","+c1y.toFixed(1)+" "+c2x.toFixed(1)+","+c2y.toFixed(1)+" "+p2[0].toFixed(1)+","+p2[1].toFixed(1);}
 return d;}
var gs=document.querySelectorAll("g.p");
for(var i=0;i<gs.length;i++){var g=gs[i],c=P[i];if(!c)continue;var z=c[0],k=c[1];
 var yts=g.querySelectorAll(".yt");var tick="";
 for(var j=0;j<yts.length;j++){var v=parseFloat(yts[j].textContent);var y=z-v*k;
  yts[j].setAttribute("x",-13);yts[j].setAttribute("y",(y+10.5).toFixed(1));
  tick+="M0,"+y.toFixed(1)+"h5M351,"+y.toFixed(1)+"h-5";}
 for(var t=0;t<=80;t+=20){var x=X(t).toFixed(1);tick+="M"+x+",103v-5M"+x+",0v5";}
 var gg=el("g",{"clip-path":"url(#cl)"},g,g.firstChild);
 el("path",{d:path(c[2]),fill:"none",stroke:"#5e5e5e","stroke-width":8.5,"stroke-linejoin":"round","stroke-linecap":"round"},gg);
 var cg=el("g",{"clip-path":"url(#cl)"},g);
 el("path",{d:path(c[3]),fill:"none",stroke:"#ff0000","stroke-width":7,"stroke-linejoin":"round","stroke-linecap":"round"},cg);
 el("rect",{x:240,y:28,width:8,height:47,fill:"#0000ff"},g);
 el("path",{d:tick,stroke:"#555","stroke-width":2,fill:"none"},g);
 el("rect",{x:0,y:0,width:351,height:103,fill:"none",stroke:"#555","stroke-width":2.2},g);
}
</script>
</body></html>
